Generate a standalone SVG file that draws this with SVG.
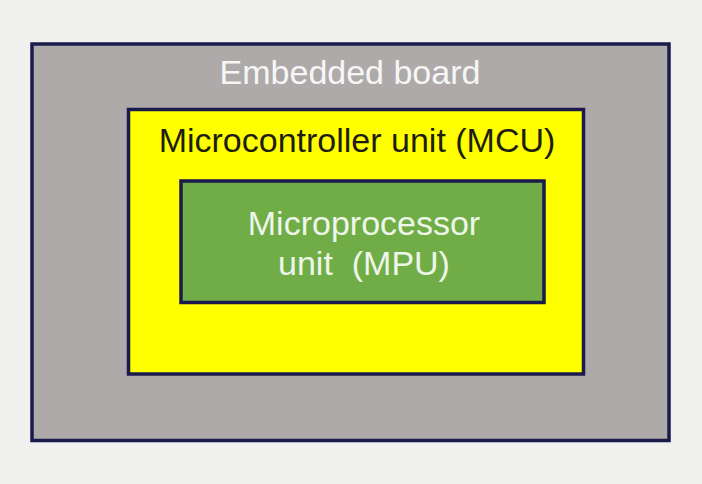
<svg xmlns="http://www.w3.org/2000/svg" width="702" height="484" viewBox="0 0 702 484">
  <style>
    .box { stroke: #1a1a4c; stroke-width: 3.5; }
    .lbl { font-family: "Liberation Sans", Arial, sans-serif; font-size: 34px; text-anchor: middle; white-space: pre; }
  </style>
  <rect x="0" y="0" width="702" height="484" fill="#f0f0ef"/>
  <g id="embedded-board">
    <rect class="box" x="32" y="44" width="637" height="396.5" fill="#aeaaa9"/>
    <text class="lbl" x="350" y="84" fill="#f6f6f6">Embedded board</text>
  </g>
  <g id="mcu">
    <rect class="box" x="128.5" y="109.5" width="455" height="264.5" fill="#ffff00"/>
    <text class="lbl" x="357" y="152" fill="#1e1e10">Microcontroller unit (MCU)</text>
  </g>
  <g id="mpu">
    <rect class="box" x="181" y="181" width="363" height="121.5" fill="#70ad47"/>
    <text class="lbl" x="364" y="235" fill="#eef5ea">Microprocessor</text>
    <text class="lbl" x="364" y="275" fill="#eef5ea" xml:space="preserve">unit  (MPU)</text>
  </g>
  <g id="connectors"/>
</svg>
